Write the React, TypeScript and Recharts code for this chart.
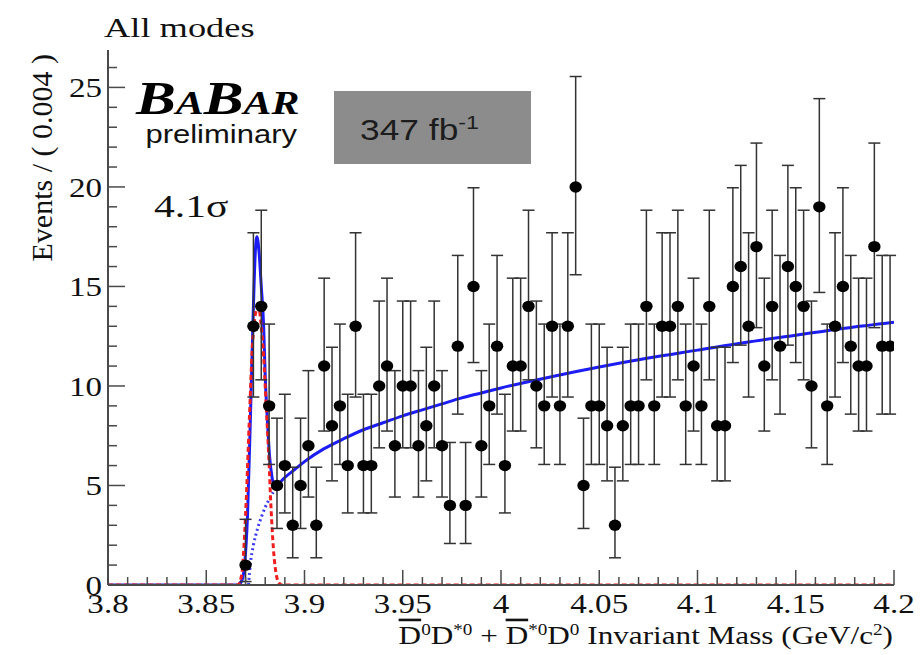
import React from 'react';
import { ComposedChart, ErrorBar, Line, Scatter, XAxis, YAxis } from 'recharts';

// bin centres (GeV/c^2), 0.004 wide, and the counts
const massBins = [
  3.870, 3.874, 3.878, 3.882, 3.886, 3.890, 3.894, 3.898, 3.902, 3.906,
  3.910, 3.914, 3.918, 3.922, 3.926, 3.930, 3.934, 3.938, 3.942, 3.946,
  3.950, 3.954, 3.958, 3.962, 3.966, 3.970, 3.974, 3.978, 3.982, 3.986,
  3.990, 3.994, 3.998, 4.002, 4.006, 4.010, 4.014, 4.018, 4.022, 4.026,
  4.030, 4.034, 4.038, 4.042, 4.046, 4.050, 4.054, 4.058, 4.062, 4.066,
  4.070, 4.074, 4.078, 4.082, 4.086, 4.090, 4.094, 4.098, 4.102, 4.106,
  4.110, 4.114, 4.118, 4.122, 4.126, 4.130, 4.134, 4.138, 4.142, 4.146,
  4.150, 4.154, 4.158, 4.162, 4.166, 4.170, 4.174, 4.178, 4.182, 4.186,
  4.190, 4.194, 4.198,
];
const events = [
  1, 13, 14, 9, 5, 6, 3, 5, 7, 3,
  11, 8, 9, 6, 13, 6, 6, 10, 11, 7,
  10, 10, 7, 8, 10, 7, 4, 12, 4, 15,
  7, 9, 12, 6, 11, 11, 14, 10, 9, 13,
  9, 13, 20, 5, 9, 9, 8, 3, 8, 9,
  9, 14, 9, 13, 13, 14, 9, 11, 9, 14,
  8, 8, 15, 16, 13, 17, 11, 14, 12, 16,
  15, 14, 10, 19, 9, 13, 15, 12, 11, 11,
  17, 12, 12,
];

// Poisson 68% interval half-widths, indexed by count
const poissonLow = [0, 0.827, 1.292, 1.633, 1.914, 2.159, 2.379, 2.581, 2.768, 2.943, 3.108,
  3.265, 3.414, 3.556, 3.692, 3.823, 3.949, 4.070, 4.187, 4.301, 4.412];
const poissonHigh = [1.841, 2.300, 2.638, 2.918, 3.162, 3.382, 3.583, 3.770, 3.944, 4.110, 4.266,
  4.416, 4.559, 4.697, 4.830, 4.958, 5.083, 5.204, 5.321, 5.436, 5.548];

// total fit (blue solid)
const totalMass = [3.8, 3.866, 3.868, 3.8695, 3.871, 3.8725, 3.874, 3.875, 3.8758, 3.8768,
  3.878, 3.8792, 3.880, 3.881, 3.8822, 3.8835, 3.885, 3.887, 3.890, 3.895, 3.900, 3.910,
  3.920, 3.930, 3.940, 3.950, 3.960, 3.970, 3.980, 3.990, 4.000, 4.025, 4.050,
  4.075, 4.100, 4.125, 4.150, 4.175, 4.200];
const totalFit = [0, 0, 0.2, 1.0, 3.5, 8.5, 14.0, 16.8, 17.5, 16.8,
  15.0, 13.0, 10.5, 8.5, 6.5, 5.4, 4.9, 5.1, 5.4, 5.8, 6.2, 6.85,
  7.35, 7.8, 8.15, 8.5, 8.8, 9.1, 9.4, 9.65, 9.9, 10.45, 10.95,
  11.4, 11.8, 12.2, 12.55, 12.9, 13.2];

// signal component (red dashed)
const signalMass = [3.8, 3.866, 3.868, 3.870, 3.872, 3.8735, 3.875, 3.8765, 3.878, 3.8792,
  3.8805, 3.8818, 3.883, 3.8842, 3.8855, 3.887, 3.8885, 4.2];
const signalFit = [0, 0, 0.5, 3.5, 8.5, 12.0, 13.6, 14.0, 13.0, 11.5,
  9.0, 6.5, 3.8, 1.8, 0.6, 0.1, 0, 0];

// background under the peak (blue dotted)
const bkgMass = [3.8715, 3.8725, 3.874, 3.876, 3.878, 3.880, 3.882, 3.884, 3.886, 3.887];
const bkgFit = [0, 1.1, 2.0, 2.8, 3.4, 3.9, 4.3, 4.65, 4.95, 5.1];

const xMajorTicks = [3.8, 3.85, 3.9, 3.95, 4, 4.05, 4.1, 4.15, 4.2];
const xTickLabels = ['3.8', '3.85', '3.9', '3.95', '4', '4.05', '4.1', '4.15', '4.2'];
const yMajorTicks = [0, 5, 10, 15, 20, 25];
const yTickLabels = ['0', '5', '10', '15', '20', '25'];

const xMinorTicks = Array.from({ length: 41 }, (_, i) => Number((3.8 + i * 0.01).toFixed(2)));
const yMinorTicks = Array.from({ length: 27 }, (_, i) => i);

const points = massBins.map((m, i) => ({
  x: m,
  y: events[i],
  err: [poissonLow[events[i]], poissonHigh[events[i]]],
}));
const pairs = (xs: number[], ys: number[]) => xs.map((x, i) => ({ x, y: ys[i] }));
const totalData = pairs(totalMass, totalFit);
const signalData = pairs(signalMass, signalFit);
const bkgData = pairs(bkgMass, bkgFit);

const SERIF = '"Liberation Serif", "DejaVu Serif", serif';
const SANS = '"Liberation Sans", Arial, sans-serif';
const FRAME = '#4a4a4a';
const SX = 1.18;

const majorIndex = (v: number, majors: number[]) => majors.findIndex((m) => Math.abs(m - v) < 1e-6);

const BottomTick = ({ x, y, payload }: any) => {
  const k = majorIndex(payload.value, xMajorTicks);
  return (
    <g>
      <line x1={x} y1={y} x2={x} y2={y - (k >= 0 ? 15 : 8)} stroke={FRAME} strokeWidth={1.5} />
      {k >= 0 && (
        <text transform={`translate(${x},${y + 28}) scale(${SX},1)`} textAnchor="middle"
          fontFamily={SERIF} fontSize={28} fill="#111">{xTickLabels[k]}</text>
      )}
    </g>
  );
};

const TopTick = ({ x, y, payload }: any) => {
  const k = majorIndex(payload.value, xMajorTicks);
  return <line x1={x} y1={y} x2={x} y2={y + (k >= 0 ? 15 : 8)} stroke={FRAME} strokeWidth={1.5} />;
};

const LeftTick = ({ x, y, payload }: any) => {
  const k = majorIndex(payload.value, yMajorTicks);
  return (
    <g>
      <line x1={x} y1={y} x2={x + (k >= 0 ? 17 : 9)} y2={y} stroke={FRAME} strokeWidth={1.5} />
      {k >= 0 && (
        <text transform={`translate(${x - 6},${y + 10}) scale(${SX},1)`} textAnchor="end"
          fontFamily={SERIF} fontSize={28} fill="#111">{yTickLabels[k]}</text>
      )}
    </g>
  );
};

const RightTick = ({ x, y, payload }: any) => {
  const k = majorIndex(payload.value, yMajorTicks);
  return <line x1={x} y1={y} x2={x - (k >= 0 ? 17 : 9)} y2={y} stroke={FRAME} strokeWidth={1.5} />;
};

const Dot = (p: any) => <ellipse cx={p.cx} cy={p.cy} rx={6.2} ry={5.7} fill="#000" />;

export default function App() {
  return (
    <div style={{ position: 'absolute', left: 0, top: 0, width: 921, height: 655, background: '#fff' }}>
      <ComposedChart width={921} height={655} margin={{ top: 50, right: 27, bottom: 0, left: 0 }}>
        <XAxis dataKey="x" type="number" domain={[3.8, 4.2]} allowDataOverflow ticks={xMinorTicks}
          interval={0} tick={BottomTick} tickLine={false} tickSize={0} tickMargin={0} height={70}
          axisLine={{ stroke: FRAME, strokeWidth: 2 }} />
        <XAxis xAxisId="top" orientation="top" type="number" domain={[3.8, 4.2]} allowDataOverflow
          ticks={xMinorTicks} interval={0} tick={TopTick} tickLine={false} tickSize={0} tickMargin={0}
          height={0} axisLine={{ stroke: FRAME, strokeWidth: 2 }} />
        <YAxis type="number" domain={[0, 26.88]} allowDataOverflow ticks={yMinorTicks} interval={0}
          tick={LeftTick} tickLine={false} tickSize={0} tickMargin={0} width={108}
          axisLine={{ stroke: FRAME, strokeWidth: 2 }} />
        <YAxis yAxisId="right" orientation="right" type="number" domain={[0, 26.88]} allowDataOverflow
          ticks={yMinorTicks} interval={0} tick={RightTick} tickLine={false} tickSize={0} tickMargin={0}
          width={0} axisLine={{ stroke: FRAME, strokeWidth: 2 }} />
        <Line data={totalData} dataKey="y" type="monotone" stroke="#1c1cf5" strokeWidth={3}
          dot={false} isAnimationActive={false} />
        <Line data={bkgData} dataKey="y" type="monotone" stroke="#3a3af5" strokeWidth={3}
          strokeDasharray="2 3" dot={false} isAnimationActive={false} />
        <Line data={signalData} dataKey="y" type="monotone" stroke="#f01e1e" strokeWidth={3}
          strokeDasharray="5 3" dot={false} isAnimationActive={false} />
        <Scatter data={points} dataKey="y" shape={Dot} isAnimationActive={false}>
          <ErrorBar dataKey="err" direction="y" width={6} stroke="#333" strokeWidth={1.5} />
        </Scatter>
      </ComposedChart>
      <svg width={921} height={655} style={{ position: 'absolute', left: 0, top: 0, pointerEvents: 'none' }}>
        <text transform="translate(104,37) scale(1.3,1)" fontFamily={SERIF} fontSize={28} fill="#111">
          All modes
        </text>
        <text transform="translate(52,54) rotate(-90)" textAnchor="end" fontFamily={SERIF} fontSize={30} fill="#111">
          Events / ( 0.004 )
        </text>
        <text transform="translate(136,114) scale(1.27,1)" fontFamily={SERIF} fontStyle="italic" fontWeight="bold"
          fontSize={47} fill="#000">
          B<tspan fontSize={33}>A</tspan>B<tspan fontSize={33}>AR</tspan>
        </text>
        <text transform="translate(297,143) scale(1.24,1)" textAnchor="end" fontFamily={SANS} fontSize={25} fill="#111">
          preliminary
        </text>
        <rect x={334} y={91} width={197} height={73} fill="#8c8c8c" />
        <text transform="translate(360,140) scale(1.22,1)" fontFamily={SANS} fontSize={29} fill="#1c1c1c">
          347 fb<tspan dy={-11} fontSize={19}>-1</tspan>
        </text>
        <text transform="translate(154,217) scale(1.3,1)" fontFamily={SERIF} fontSize={32} fill="#111">
          4.1σ
        </text>
        <text transform="translate(893,644) scale(1.2,1)" textAnchor="end" fontFamily={SERIF} fontSize={26} fill="#111">
          <tspan textDecoration="overline">D</tspan>
          <tspan dy={-9} fontSize={16}>0</tspan>
          <tspan dy={9}>D</tspan>
          <tspan dy={-9} fontSize={16}>*0</tspan>
          <tspan dy={9}> + </tspan>
          <tspan textDecoration="overline">D</tspan>
          <tspan dy={-9} fontSize={16}>*0</tspan>
          <tspan dy={9}>D</tspan>
          <tspan dy={-9} fontSize={16}>0</tspan>
          <tspan dy={9}> Invariant Mass (GeV/c</tspan>
          <tspan dy={-9} fontSize={16}>2</tspan>
          <tspan dy={9}>)</tspan>
        </text>
      </svg>
    </div>
  );
}
